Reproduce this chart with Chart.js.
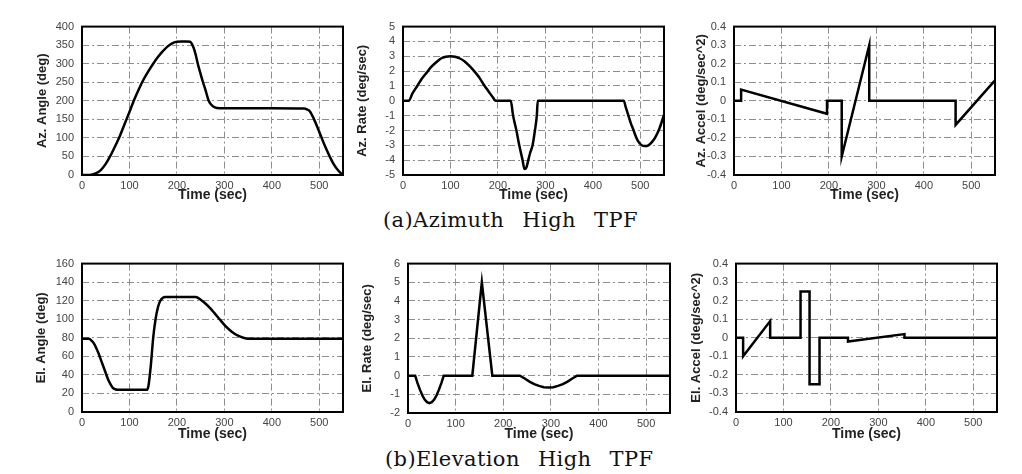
<!DOCTYPE html>
<html>
<head>
<meta charset="utf-8">
<script src="https://cdn.jsdelivr.net/npm/chart.js@4.4.1/dist/chart.umd.min.js"></script>
<style>
  body { margin: 0; background: #fff; width: 1022px; height: 474px; position: relative; overflow: hidden; }
  canvas { position: absolute; }
  .cap { position: absolute; font-family: "DejaVu Serif", serif; font-size: 21px; color: #111; white-space: nowrap; word-spacing: 11px; letter-spacing: 0.4px; }
</style>
</head>
<body>
<div class="cap" id="capA" style="left:383px; top:208px;">(a)Azimuth High TPF</div>
<div class="cap" id="capB" style="left:385px; top:447px;">(b)Elevation High TPF</div>
<script>
// time axis
const timeTicks = [0, 100, 200, 300, 400, 500];

// Az. Angle (deg)
const azAngleT = [0, 12, 20, 30, 40, 50, 60, 70, 80, 90, 100, 110, 120, 130, 140, 150, 160, 170, 180, 190, 200, 210, 220, 228, 232, 236, 240, 244, 250, 255, 260, 267, 272, 280, 290, 300, 400, 468, 475, 480, 489, 495, 505, 512, 522, 530, 540, 548, 550];
const azAngleV = [0, 0, 1, 5, 14, 30, 52, 78, 106, 138, 170, 203, 232, 258, 280, 300, 318, 333, 346, 355, 359, 360, 360, 359, 352, 340, 322, 300, 272, 250, 230, 200, 190, 182, 180, 180, 180, 179, 176, 172, 150, 132, 100, 78, 50, 30, 12, 2, 0];
const azAngleTicks = [0, 50, 100, 150, 200, 250, 300, 350, 400];

// Az. Rate (deg/sec)
const azRateT = [0, 12, 20, 30, 40, 50, 60, 70, 80, 90, 100, 110, 120, 130, 140, 150, 160, 170, 180, 190, 195, 227, 232, 239, 245, 252, 256, 260, 264, 268, 273, 278, 282, 284, 465, 470, 475, 480, 486, 490, 495, 503, 510, 517, 524, 531, 540, 550];
const azRateV = [0, 0, 0.5, 1.0, 1.5, 1.9, 2.3, 2.6, 2.85, 2.97, 3.0, 2.97, 2.85, 2.65, 2.35, 2.0, 1.6, 1.1, 0.65, 0.2, 0, 0, -1, -2, -3, -4, -4.6, -4.5, -4.0, -3.5, -3.0, -2.0, -1.0, 0, 0, -0.5, -1.0, -1.5, -2.0, -2.35, -2.7, -3.0, -3.05, -3.0, -2.8, -2.5, -1.9, -0.95];
const azRateTicks = [-5, -4, -3, -2, -1, 0, 1, 2, 3, 4, 5];

// Az. Accel (deg/sec^2)
const azAccelT = [0, 15, 15, 196, 196, 227, 227, 285, 285, 467, 467, 550];
const azAccelV = [0, 0, 0.06, -0.07, 0, 0, -0.3, 0.3, 0, 0, -0.13, 0.11];
const azAccelTicks = [-0.4, -0.3, -0.2, -0.1, 0, 0.1, 0.2, 0.3, 0.4];

// El. Angle (deg)
const elAngleT = [0, 15, 20, 25, 30, 35, 40, 45, 50, 55, 60, 65, 70, 75, 137, 140, 145, 150, 155, 160, 165, 170, 175, 240, 250, 260, 270, 280, 290, 300, 310, 320, 330, 340, 350, 550];
const elAngleV = [79, 79, 77, 74, 69, 63, 56, 49, 42, 35, 30, 26, 24.5, 24, 24, 28, 50, 80, 100, 113, 120, 123, 124, 124, 121, 117, 112, 106, 100, 94, 89, 85, 82, 80, 79, 79];
const elAngleTicks = [0, 20, 40, 60, 80, 100, 120, 140, 160];

// El. Rate (deg/sec)
const elRateT = [0, 15, 20, 25, 30, 35, 40, 45, 50, 55, 60, 65, 70, 75, 135, 155, 177, 235, 245, 255, 265, 275, 285, 295, 305, 315, 325, 335, 345, 355, 550];
const elRateV = [0, 0, -0.4, -0.75, -1.05, -1.28, -1.42, -1.47, -1.42, -1.28, -1.05, -0.75, -0.4, 0, 0, 5, 0, 0, -0.15, -0.32, -0.45, -0.55, -0.62, -0.64, -0.62, -0.55, -0.45, -0.32, -0.15, 0, 0];
const elRateTicks = [-2, -1, 0, 1, 2, 3, 4, 5, 6];

// El. Accel (deg/sec^2)
const elAccelT = [0, 15, 15, 72, 72, 136, 136, 155, 155, 176, 176, 236, 236, 355, 355, 550];
const elAccelV = [0, 0, -0.1, 0.09, 0, 0, 0.25, 0.25, -0.25, -0.25, 0, 0, -0.02, 0.02, 0, 0];
const elAccelTicks = [-0.4, -0.3, -0.2, -0.1, 0, 0.1, 0.2, 0.3, 0.4];

// plot boxes in page pixels
const panels = [
  { title: 'Az. Angle (deg)', t: azAngleT, v: azAngleV, ticks: azAngleTicks, smooth: true, l: 82, r: 343, top: 22, b: 175, yW: 47, xH: 29 },
  { title: 'Az. Rate (deg/sec)', t: azRateT, v: azRateV, ticks: azRateTicks, smooth: true, l: 403, r: 664, top: 22, b: 175, yW: 48, xH: 29 },
  { title: 'Az. Accel (deg/sec^2)', t: azAccelT, v: azAccelV, ticks: azAccelTicks, smooth: false, l: 734, r: 995, top: 22, b: 175, yW: 40, xH: 29 },
  { title: 'El. Angle (deg)', t: elAngleT, v: elAngleV, ticks: elAngleTicks, smooth: true, l: 82, r: 343, top: 259, b: 412, yW: 48, xH: 31 },
  { title: 'El. Rate (deg/sec)', t: elRateT, v: elRateV, ticks: elRateTicks, smooth: false, l: 408, r: 670, top: 259, b: 413, yW: 48, xH: 30 },
  { title: 'El. Accel (deg/sec^2)', t: elAccelT, v: elAccelV, ticks: elAccelTicks, smooth: false, l: 736, r: 997, top: 259, b: 412, yW: 47, xH: 31 }
];

const PAD = 10;

const boxPlugin = {
  id: 'box',
  afterDraw(chart) {
    const a = chart.chartArea;
    const ctx = chart.ctx;
    ctx.save();
    ctx.strokeStyle = '#000';
    ctx.lineWidth = 2;
    ctx.strokeRect(a.left, a.top, a.right - a.left, a.bottom - a.top);
    ctx.restore();
  }
};

const gridStyle = {
  color: '#8e8e8e',
  lineWidth: 1,
  drawTicks: false
};

panels.forEach(function(p) {
  const cv = document.createElement('canvas');
  const w = p.yW + (p.r - p.l) + PAD;
  const h = PAD + (p.b - p.top) + p.xH;
  cv.width = w;
  cv.height = h;
  cv.style.left = (p.l - p.yW) + 'px';
  cv.style.top = (p.top - PAD) + 'px';
  cv.style.width = w + 'px';
  cv.style.height = h + 'px';
  document.body.appendChild(cv);

  const pts = p.t.map((x, i) => ({ x: x, y: p.v[i] }));
  const yMin = p.ticks[0];
  const yMax = p.ticks[p.ticks.length - 1];

  new Chart(cv, {
    type: 'line',
    data: {
      datasets: [{
        data: pts,
        borderColor: '#000',
        borderWidth: 2.5,
        pointRadius: 0,
        fill: false,
        tension: 0,
        cubicInterpolationMode: p.smooth ? 'monotone' : 'default'
      }]
    },
    options: {
      responsive: false,
      animation: false,
      devicePixelRatio: 1,
      layout: { padding: { top: PAD, right: PAD, left: 0, bottom: 0 } },
      plugins: { legend: { display: false }, tooltip: { enabled: false } },
      scales: {
        x: {
          type: 'linear',
          min: 0,
          max: 550,
          afterBuildTicks: (s) => { s.ticks = timeTicks.map(v => ({ value: v })); },
          afterFit: (s) => { s.height = p.xH; },
          grid: Object.assign({ borderDash: [7, 3, 2, 3] }, gridStyle),
          border: { display: false, dash: [7, 3, 2, 3] },
          ticks: {
            padding: 4,
            autoSkip: false,
            maxRotation: 0,
            color: '#444',
            font: { family: 'Liberation Sans', size: 11 },
            callback: (v) => String(v)
          },
          title: {
            display: true,
            text: 'Time (sec)',
            color: '#222',
            padding: { top: 0, bottom: 0 },
            font: { family: 'Liberation Sans', size: 14, weight: 'bold' }
          }
        },
        y: {
          min: yMin,
          max: yMax,
          afterBuildTicks: (s) => { s.ticks = p.ticks.map(v => ({ value: v })); },
          afterFit: (s) => { s.width = p.yW; },
          grid: Object.assign({}, gridStyle),
          border: { display: false, dash: [7, 3, 2, 3] },
          ticks: {
            padding: 8,
            autoSkip: false,
            color: '#444',
            font: { family: 'Liberation Sans', size: 11 },
            callback: (v) => String(v)
          },
          title: {
            display: true,
            text: p.title,
            color: '#222',
            padding: { top: 0, bottom: 0 },
            font: { family: 'Liberation Sans', size: 13, weight: 'bold' }
          }
        }
      }
    },
    plugins: [boxPlugin]
  });
});
</script>
</body>
</html>
